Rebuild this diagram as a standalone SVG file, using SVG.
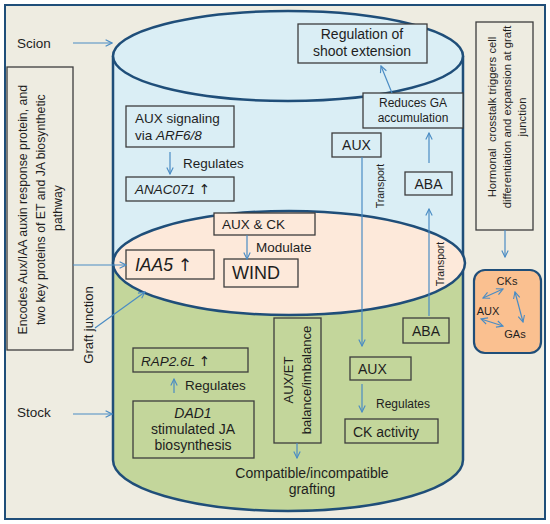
<svg xmlns="http://www.w3.org/2000/svg" width="550" height="524" viewBox="0 0 550 524">
<defs>
<style>
text{font-family:"Liberation Sans",Arial,sans-serif;fill:#1e1e1e;}
.box{stroke:#3d3d3d;stroke-width:1.3;}
.bl{fill:#daeef5;}
.pk{fill:#fde9da;}
.gr{fill:#c3d69b;}
.bg{fill:#eeece1;}
.cyl{fill:none;stroke:#1f4e79;stroke-width:2.5;}
.arr{fill:none;stroke:#4a8cc4;stroke-width:1.2;marker-end:url(#ah);}
.dbl{fill:none;stroke:#4a8cc4;stroke-width:1.2;marker-end:url(#ah);marker-start:url(#ah);}
.it{font-style:italic;}
.up{font-family:"DejaVu Sans",sans-serif;}
</style>
<marker id="ah" viewBox="0 0 10 10" refX="9" refY="5" markerWidth="8" markerHeight="8" markerUnits="userSpaceOnUse" orient="auto-start-reverse">
<path d="M1,1 L9,5 L1,9" fill="none" stroke="#4a8cc4" stroke-width="1.4"/>
</marker>
</defs>

<rect x="5" y="5" width="540" height="514" fill="#eeece1" stroke="#1f4e79" stroke-width="2"/>

<g id="cylinder">
<path d="M113,263 V460 A175,51 0 0 0 463,460 V263 Z" class="gr"/>
<rect x="113" y="56" width="350" height="207" class="bl"/>
<path d="M113,263 V460 A175,51 0 0 0 463,460 V263" class="cyl"/>
<path d="M113,56 V263 M463,56 V263" class="cyl"/>
<ellipse cx="289" cy="263" rx="176" ry="52" class="cyl" style="fill:#fde9da"/>
<ellipse cx="288" cy="56" rx="175" ry="45" class="cyl" style="fill:#daeef5"/>
</g>

<g id="labels">
<text x="17" y="48" font-size="13.5">Scion</text>
<text x="17" y="417" font-size="13.5">Stock</text>
<text transform="translate(93,325) rotate(-90)" text-anchor="middle" font-size="13">Graft junction</text>
</g>

<g id="encodes">
<rect x="7" y="67" width="66" height="283" class="box bg"/>
<text transform="translate(0,208) rotate(-90)" text-anchor="middle" font-size="12.3">
<tspan x="0" y="27">Encodes Aux/IAA auxin response protein, and</tspan>
<tspan x="0" y="45">two key proteins of ET and JA biosynthetic</tspan>
<tspan x="0" y="62">pathway</tspan>
</text>
</g>

<g id="hormonal">
<rect x="476" y="22" width="57" height="208" class="box bg"/>
<text transform="translate(0,117) rotate(-90)" text-anchor="middle" font-size="11.3" xml:space="preserve"><tspan x="0" y="496">Hormonal  crosstalk triggers cell</tspan><tspan x="0" y="511">differentiation and expansion at graft</tspan><tspan x="0" y="526">junction</tspan></text>
</g>

<g id="hormones">
<rect x="474" y="270" width="67" height="83" rx="11" fill="#fac090" stroke="#1f4e79" stroke-width="2.2"/>
<text x="507" y="285" font-size="11" text-anchor="middle">CKs</text>
<text x="488" y="315" font-size="11" text-anchor="middle">AUX</text>
<text x="515" y="338" font-size="11" text-anchor="middle">GAs</text>
</g>

<g id="aux-signaling">
<rect x="126" y="106" width="108" height="41" class="box bl"/>
<text x="135" y="123" font-size="13.5">AUX signaling</text>
<text x="135" y="140" font-size="13.5">via <tspan class="it">ARF6/8</tspan></text>
</g>
<g id="anac">
<rect x="126" y="177" width="108" height="24" class="box bl"/>
<text x="135" y="194" font-size="13.5"><tspan class="it">ANAC071</tspan> <tspan class="up">↑</tspan></text>
</g>
<g id="shoot">
<rect x="298" y="24" width="129" height="39" class="box bl"/>
<text x="362" y="39" font-size="14" text-anchor="middle">Regulation of</text>
<text x="362" y="56" font-size="14" text-anchor="middle">shoot extension</text>
</g>
<g id="reduces">
<rect x="363" y="93" width="100" height="35" class="box bl"/>
<text x="413" y="107" font-size="12" text-anchor="middle">Reduces GA</text>
<text x="413" y="122" font-size="12" text-anchor="middle">accumulation</text>
</g>
<g id="aux-top">
<rect x="332" y="133" width="49" height="24" class="box bl"/>
<text x="356.5" y="150" font-size="14" text-anchor="middle">AUX</text>
</g>
<g id="aba-top">
<rect x="405" y="172" width="47" height="23" class="box bl"/>
<text x="428.5" y="189" font-size="14" text-anchor="middle">ABA</text>
</g>

<g id="auxck">
<rect x="214" y="213" width="101" height="22" class="box pk"/>
<text x="222" y="229" font-size="13.5">AUX &amp; CK</text>
</g>
<g id="wind">
<rect x="224" y="259" width="74" height="28" class="box pk"/>
<text x="232" y="279" font-size="18">WIND</text>
</g>
<g id="iaa5">
<rect x="126" y="250" width="88" height="29" class="box pk"/>
<text x="135" y="271" font-size="17.5"><tspan class="it">IAA5</tspan> <tspan class="up">↑</tspan></text>
</g>

<g id="rap">
<rect x="133" y="348" width="115" height="24" class="box gr"/>
<text x="141" y="366" font-size="13.5"><tspan class="it">RAP2.6L</tspan> <tspan class="up">↑</tspan></text>
</g>
<g id="dad1">
<rect x="133" y="401" width="121" height="57" class="box gr"/>
<text x="193" y="418" font-size="14" text-anchor="middle" class="it">DAD1</text>
<text x="193" y="434" font-size="14" text-anchor="middle">stimulated JA</text>
<text x="193" y="450" font-size="14" text-anchor="middle">biosynthesis</text>
</g>
<g id="auxet">
<rect x="274" y="318" width="47" height="125" class="box gr"/>
<text transform="translate(0,380) rotate(-90)" text-anchor="middle" font-size="13"><tspan x="0" y="293">AUX/ET</tspan><tspan x="0" y="311">balance/imbalance</tspan></text>
</g>
<g id="compat">
<text x="312" y="478" font-size="14" text-anchor="middle">Compatible/incompatible</text>
<text x="312" y="494" font-size="14" text-anchor="middle">grafting</text>
</g>
<g id="aba-bottom">
<rect x="403" y="318" width="46" height="25" class="box gr"/>
<text x="426" y="336" font-size="14" text-anchor="middle">ABA</text>
</g>
<g id="aux-bottom">
<rect x="350" y="357" width="61" height="23" class="box gr"/>
<text x="358" y="374" font-size="14">AUX</text>
</g>
<g id="ckact">
<rect x="345" y="419" width="93" height="24" class="box gr"/>
<text x="353" y="437" font-size="14">CK activity</text>
</g>

<g id="connectors">
<path d="M73,43 H112" class="arr"/>
<path d="M73,414 H112" class="arr"/>
<path d="M73,265 H126" class="arr"/>
<path d="M95,328 L145,292" class="arr"/>
<path d="M170,152 V174" class="arr"/>
<path d="M392,93 L381,66" class="arr"/>
<path d="M429,163 V133" class="arr"/>
<path d="M362,157 V346" class="arr"/>
<path d="M429,316 V209" class="arr"/>
<path d="M247,235 V259" class="arr"/>
<path d="M174,393 V379" class="arr"/>
<path d="M362,384 V412" class="arr"/>
<path d="M297,443 V458" class="arr"/>
<path d="M505,230 V257" class="arr"/>
<path d="M483,298 L503,289" class="dbl"/>
<path d="M481,319 L503,326" class="dbl"/>
<path d="M515,292 L523,322" class="dbl"/>
<text x="183" y="168" font-size="13.5">Regulates</text>
<text x="185" y="390" font-size="13.5">Regulates</text>
<text x="376" y="408" font-size="12">Regulates</text>
<text x="256" y="252" font-size="13.5">Modulate</text>
<text transform="translate(384,186) rotate(-90)" text-anchor="middle" font-size="10.5">Transport</text>
<text transform="translate(444,264) rotate(-90)" text-anchor="middle" font-size="10.5">Transport</text>
</g>
</svg>
